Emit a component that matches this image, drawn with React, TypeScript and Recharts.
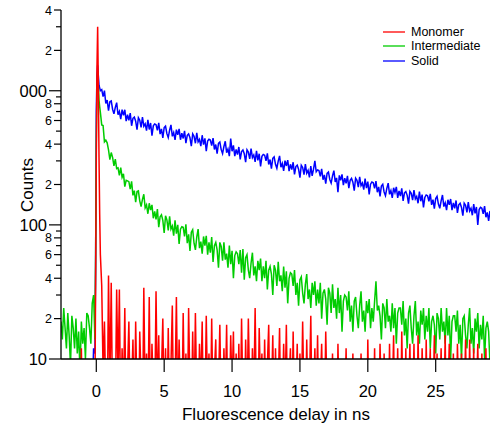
import { LineChart, Line, XAxis, YAxis, Legend } from "recharts";

const FONT = '"Liberation Sans", Arial, Helvetica, sans-serif';

// time channels: -2.6 ns .. 29 ns every 0.1 ns (one row = 1 ns), plus extra channels on the rise
const T_START = -2.6;
const T_STEP = 0.1;
const PEAK_T = [-0.05, 0.05, 0.15, 0.25];

const MONOMER = [
  3, 2, 4, 3, 2, 3, 4, 2, 3, 2,
  3, 4, 2, 3, 2, 12, 3, 2, 4, 3,
  2, 3, 4, 3, 4, 5, 300, 3000, 320, 60,
  35, 8, 19, 5, 3, 42, 6, 37, 4, 9,
  4, 33, 7, 33, 3, 12, 5, 24, 3, 8,
  19, 4, 6, 14, 3, 19, 5, 2, 16, 7,
  3, 34, 5, 11, 4, 29, 3, 13, 6, 4,
  32, 5, 15, 3, 8, 20, 4, 12, 3, 17,
  4, 9, 25, 3, 6, 29, 4, 14, 5, 3,
  22, 4, 11, 3, 24, 6, 3, 16, 4, 22,
  5, 3, 13, 6, 19, 3, 4, 21, 5, 11,
  3, 20, 4, 8, 14, 3, 6, 18, 4, 3,
  12, 5, 18, 3, 4, 15, 6, 16, 3, 11,
  4, 13, 3, 20, 5, 3, 14, 4, 20, 6,
  3, 12, 5, 24, 4, 3, 17, 6, 11, 3,
  14, 4, 9, 18, 3, 5, 15, 3, 12, 4,
  6, 17, 3, 4, 13, 5, 18, 3, 7, 12,
  3, 16, 4, 5, 13, 3, 11, 4, 19, 5,
  3, 14, 4, 6, 21, 3, 5, 12, 4, 15,
  3, 6, 13, 4, 3, 16, 5, 3, 8, 4,
  11, 3, 5, 2, 13, 4, 3, 6, 2, 4,
  12, 3, 2, 5, 4, 11, 3, 2, 4, 6,
  2, 11, 4, 3, 6, 2, 14, 3, 5, 2,
  3, 12, 2, 4, 3, 13, 5, 2, 11, 3,
  4, 2, 13, 3, 5, 15, 2, 4, 12, 3,
  2, 16, 4, 3, 12, 2, 5, 13, 3, 4,
  13, 3, 2, 15, 4, 3, 12, 5, 2, 14,
  3, 6, 12, 2, 4, 15, 3, 11, 2, 5,
  12, 3, 4, 15, 2, 5, 13, 3, 2, 11,
  4, 2, 13, 5, 3, 11, 2, 4, 14, 3,
  2, 14, 3, 4, 12, 2, 5, 13, 3, 2,
  11, 3, 4, 12, 2, 5, 3,
];
const MONOMER_PEAK = [40, 1500, 1100, 120];

const INTERMEDIATE = [
  19, 14, 24, 17, 12, 22, 15, 9, 21, 17,
  12, 20, 11, 16, 8, 19, 13, 17, 10, 22,
  21, 17, 13, 26, 30, 14, 400, 1400, 850, 690,
  556, 550, 416, 428, 409, 363, 306, 346, 319, 275,
  309, 263, 266, 234, 267, 226, 240, 193, 215, 213,
  210, 185, 211, 166, 180, 148, 177, 179, 151, 137,
  155, 169, 134, 141, 121, 145, 129, 141, 112, 126,
  110, 131, 96, 115, 119, 108, 87, 117, 109, 91,
  116, 93, 98, 83, 108, 86, 100, 72, 93, 97,
  96, 82, 101, 73, 85, 64, 88, 92, 73, 65,
  81, 93, 67, 75, 61, 82, 70, 83, 60, 74,
  62, 81, 53, 70, 74, 65, 48, 74, 69, 54,
  74, 55, 61, 48, 70, 51, 64, 40, 59, 63,
  61, 51, 65, 44, 66, 39, 57, 60, 46, 40,
  52, 62, 42, 49, 38, 54, 46, 56, 38, 49,
  40, 54, 33, 46, 49, 43, 30, 50, 46, 35,
  53, 38, 42, 32, 49, 34, 45, 26, 40, 44,
  43, 35, 46, 30, 37, 25, 39, 41, 31, 26,
  36, 43, 28, 33, 24, 37, 30, 38, 25, 33,
  26, 37, 20, 31, 33, 28, 18, 34, 31, 22,
  36, 24, 28, 20, 34, 22, 30, 16, 27, 30,
  29, 23, 32, 19, 25, 16, 27, 29, 21, 17,
  25, 32, 19, 23, 16, 27, 22, 28, 17, 24,
  19, 27, 38, 23, 25, 21, 14, 26, 24, 17,
  28, 19, 21, 16, 26, 17, 24, 13, 22, 24,
  24, 18, 27, 15, 20, 12, 22, 25, 17, 13,
  21, 27, 15, 19, 13, 23, 18, 24, 14, 21,
  16, 24, 12, 19, 21, 18, 11, 22, 20, 14,
  24, 16, 19, 13, 24, 15, 21, 10, 19, 21,
  21, 16, 23, 13, 18, 10, 20, 21, 15, 12,
  18, 24, 13, 17, 11, 20, 16, 22, 12, 18,
  14, 21, 10, 17, 19, 16, 9,
];
const INTERMEDIATE_PEAK = [60, 1000, 1100, 760];

const SOLID = [
  4, 3, 5, 2, 4, 3, 5, 4, 3, 6,
  3, 5, 4, 2, 6, 3, 4, 5, 3, 4,
  4, 6, 8, 5, 12, 11, 700, 1550, 1100, 1000,
  1020, 904, 1001, 803, 852, 712, 829, 840, 728, 672,
  752, 816, 663, 702, 614, 723, 657, 721, 594, 662,
  601, 681, 548, 623, 637, 593, 512, 630, 603, 534,
  637, 544, 567, 504, 607, 514, 575, 462, 548, 566,
  558, 506, 576, 475, 519, 445, 531, 545, 479, 448,
  508, 556, 457, 488, 431, 513, 469, 519, 431, 483,
  441, 503, 407, 465, 477, 446, 387, 477, 458, 406,
  486, 416, 434, 386, 466, 396, 442, 355, 421, 435,
  429, 390, 443, 365, 397, 340, 405, 415, 364, 340,
  384, 420, 345, 368, 325, 440, 354, 392, 325, 365,
  334, 381, 308, 352, 362, 339, 294, 363, 349, 310,
  370, 317, 332, 295, 357, 303, 339, 273, 324, 335,
  331, 300, 341, 282, 307, 263, 314, 322, 283, 264,
  299, 327, 269, 287, 253, 301, 275, 304, 252, 283,
  258, 293, 238, 272, 279, 260, 225, 278, 268, 237,
  284, 243, 255, 226, 274, 232, 260, 300, 249, 257,
  254, 230, 262, 217, 236, 203, 242, 248, 218, 205,
  232, 254, 209, 224, 175, 234, 215, 238, 198, 223,
  204, 232, 188, 215, 222, 208, 180, 223, 215, 191,
  228, 196, 205, 183, 221, 188, 210, 169, 201, 209,
  206, 187, 212, 175, 192, 163, 195, 201, 176, 165,
  187, 205, 169, 180, 159, 189, 174, 192, 159, 179,
  164, 187, 151, 173, 177, 166, 144, 178, 172, 153,
  182, 156, 163, 145, 177, 150, 168, 135, 160, 167,
  165, 150, 170, 141, 154, 132, 157, 163, 143, 133,
  151, 167, 137, 146, 129, 154, 141, 156, 129, 146,
  133, 152, 123, 141, 145, 135, 117, 145, 140, 124,
  148, 127, 133, 118, 143, 122, 136, 100, 130, 135,
  133, 121, 138, 114, 124, 107, 127,
];
const SOLID_PEAK = [50, 1300, 1300, 1050];

const X_TICKS = [0, 5, 10, 15, 20, 25];
const Y_TICKS = [10, 20, 30, 40, 50, 60, 70, 80, 90, 100, 200, 300, 400, 500, 600, 700, 800, 900, 1000, 2000, 3000, 4000];
const Y_LABELS: Record<number, string> = {
  10: "10", 20: "2", 40: "4", 60: "6", 80: "8",
  100: "100", 200: "2", 400: "4", 600: "6", 800: "8",
  1000: "000", 2000: "2", 4000: "4",
};
const Y_MAJOR = [10, 100, 1000];

function buildSeries(grid: number[], peak: number[]) {
  const pts = grid.map((v, i) => ({ t: Math.round((T_START + i * T_STEP) * 100) / 100, v }));
  PEAK_T.forEach((t, i) => pts.push({ t, v: peak[i] }));
  return pts.sort((a, b) => a.t - b.t);
}

const SERIES = [
  { name: "Monomer", color: "#ff0000", data: buildSeries(MONOMER, MONOMER_PEAK) },
  { name: "Intermediate", color: "#00cc00", data: buildSeries(INTERMEDIATE, INTERMEDIATE_PEAK) },
  { name: "Solid", color: "#0000ff", data: buildSeries(SOLID, SOLID_PEAK) },
];

const AXIS_X = 61;
const AXIS_Y = 359;

const YTick = ({ y, payload }: any) => {
  const v = payload.value;
  const label = Y_LABELS[v];
  const major = Y_MAJOR.includes(v);
  const len = major ? 12 : label ? 7 : 5;
  return (
    <g>
      <line x1={AXIS_X - len} x2={AXIS_X} y1={y} y2={y} stroke="#000" strokeWidth={1.2} />
      {label && (
        <text
          x={AXIS_X - len - 2}
          y={y}
          dy="0.36em"
          textAnchor="end"
          fontSize={major ? 16.5 : 12.5}
          fontFamily={FONT}
          fill="#000"
        >
          {label}
        </text>
      )}
    </g>
  );
};

const XTick = ({ x, payload }: any) => (
  <g>
    <line x1={x} x2={x} y1={AXIS_Y} y2={AXIS_Y + 13} stroke="#000" strokeWidth={1.2} />
    <text x={x} y={397} textAnchor="middle" fontSize={16.5} fontFamily={FONT} fill="#000">
      {payload.value}
    </text>
  </g>
);

const XTitle = () => (
  <text x={276} y={420} textAnchor="middle" fontSize={17} fontFamily={FONT} fill="#000">
    Fluorescence delay in ns
  </text>
);

const YTitle = () => (
  <text x={33} y={185} transform="rotate(-90 33 185)" textAnchor="middle" fontSize={17} fontFamily={FONT} fill="#000">
    Counts
  </text>
);

const LegendBox = () => (
  <div style={{ fontFamily: FONT, fontSize: 12.5, color: "#000" }}>
    {SERIES.map((s) => (
      <div key={s.name} style={{ display: "flex", alignItems: "center", height: 14.5, whiteSpace: "nowrap" }}>
        <svg width={28} height={6} style={{ display: "block" }}>
          <line x1={0} x2={22} y1={3} y2={3} stroke={s.color} strokeWidth={1.3} />
        </svg>
        <span>{s.name}</span>
      </div>
    ))}
  </div>
);

export default function App() {
  const drawOrder = [SERIES[2], SERIES[1], SERIES[0]];
  return (
    <div style={{ position: "absolute", left: 0, top: 0, width: 492, height: 429, background: "#fff" }}>
      <LineChart width={492} height={429} margin={{ top: 10, right: 2, bottom: 0, left: 0 }}>
        <XAxis
          type="number"
          dataKey="t"
          domain={[-2.6, 29]}
          allowDataOverflow
          ticks={X_TICKS}
          interval={0}
          height={70}
          tickLine={false}
          tick={<XTick />}
          axisLine={{ stroke: "#000", strokeWidth: 1.3 }}
          label={<XTitle />}
        />
        <YAxis
          scale="log"
          domain={[10, 4000]}
          allowDataOverflow
          ticks={Y_TICKS}
          interval={0}
          width={61}
          tickLine={false}
          tick={<YTick />}
          axisLine={{ stroke: "#000", strokeWidth: 1.3 }}
          label={<YTitle />}
        />
        <Legend
          layout="vertical"
          align="center"
          verticalAlign="middle"
          content={<LegendBox />}
          wrapperStyle={{ position: "absolute", left: 383, top: 24.5, width: 109, height: 44 }}
        />
        {drawOrder.map((s) => (
          <Line
            key={s.name}
            name={s.name}
            data={s.data}
            dataKey="v"
            type="linear"
            stroke={s.color}
            strokeWidth={1.5}
            strokeLinejoin="miter"
            dot={false}
            activeDot={false}
            isAnimationActive={false}
          />
        ))}
      </LineChart>
    </div>
  );
}
